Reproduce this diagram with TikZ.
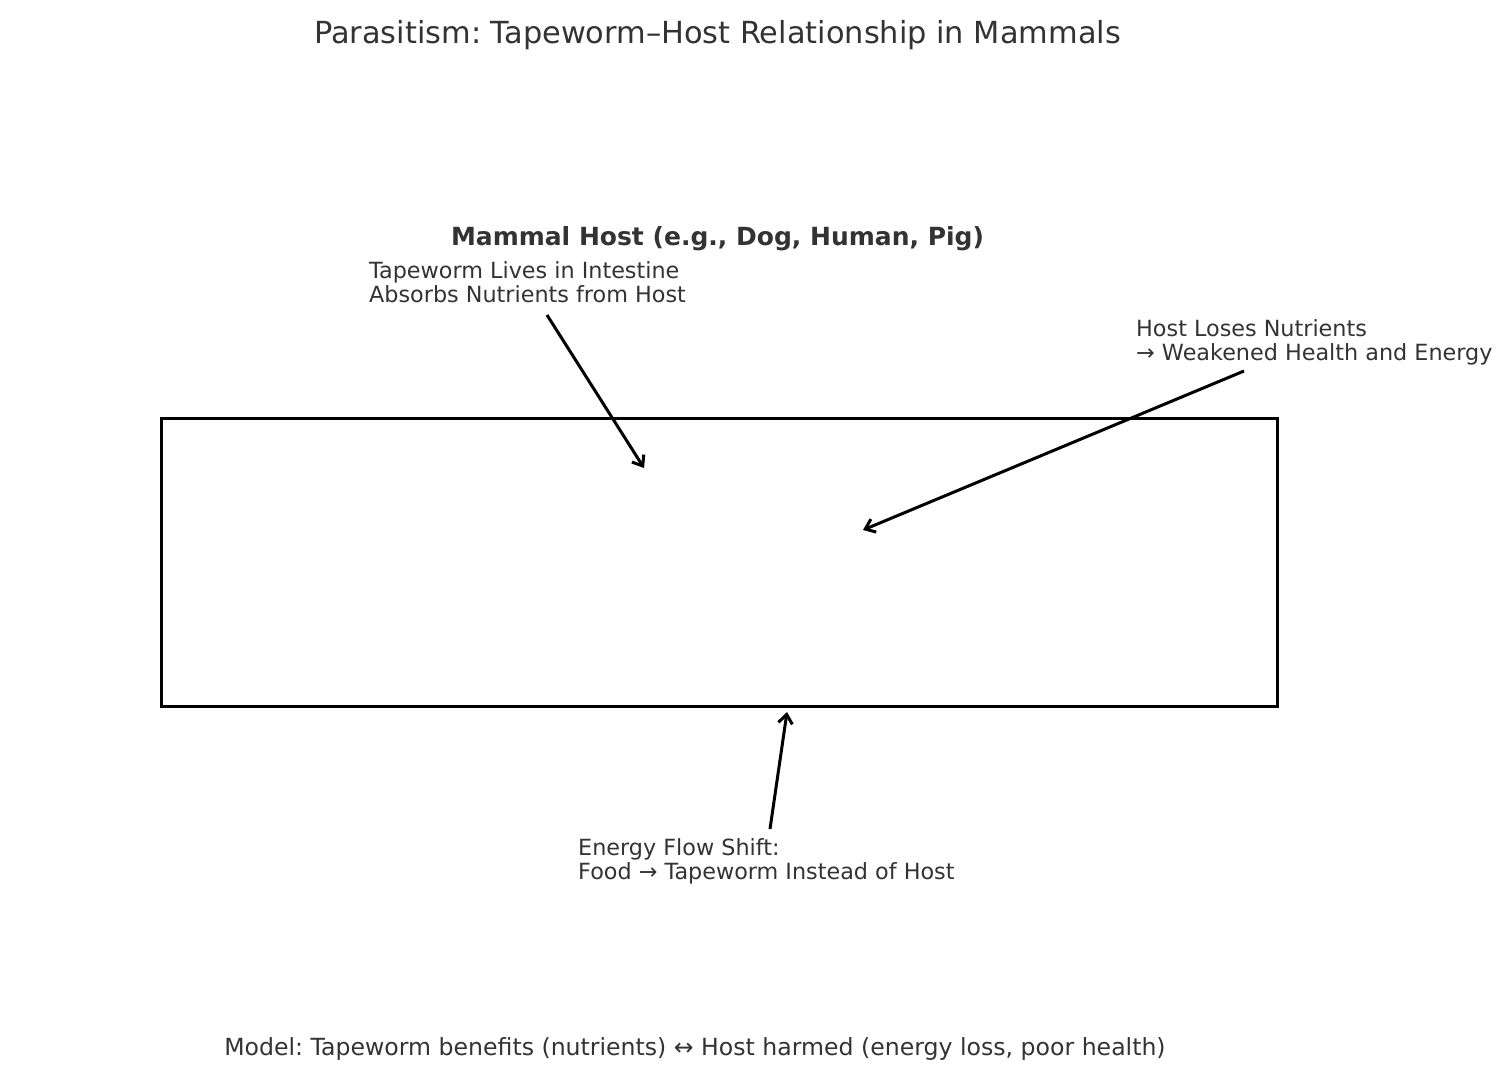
\documentclass[tikz,border=0pt]{standalone}
\usepackage{fontspec}
\setmainfont{DejaVu Sans}
\usetikzlibrary{arrows.meta}
\definecolor{txt}{HTML}{333333}
\frenchspacing
\tikzset{
  lbl/.style={text=txt, font=\fontsize{22.3}{23.3}\selectfont, align=left, inner sep=0pt, anchor=base west},
  ptr/.style={line width=3pt, -{Straight Barb[length=9pt,width=14pt,line width=3pt]}},
}
\begin{document}
\begin{tikzpicture}[x=1pt,y=-1pt]
\useasboundingbox (0,0) rectangle (1511,1079);
\node[text=txt, font=\fontsize{30.4}{36}\selectfont\frenchspacing, inner sep=0pt, anchor=base] (title) at (717.5,43) {Parasitism: Tapeworm–Host Relationship in Mammals};
\node[text=txt, font=\fontsize{25}{30}\bfseries, inner sep=0pt, anchor=base] (host) at (717.5,245.5) {Mammal Host (e.g., Dog, Human, Pig)};
\node[draw=black, line width=3pt, minimum width=1116pt, minimum height=288pt, anchor=north west, inner sep=0pt] (box) at (160,417) {};
\node[lbl] (l1) at (369,302) {Tapeworm Lives in Intestine\\Absorbs Nutrients from Host};
\node[lbl] (l2) at (1136,360) {Host Loses Nutrients\\→ Weakened Health and Energy};
\node[lbl] (l3) at (578,879) {Energy Flow Shift:\\Food → Tapeworm Instead of Host};
\node[text=txt, font=\fontsize{23.6}{28}\selectfont\frenchspacing, inner sep=0pt, anchor=base] (model) at (695,1055) {Model: Tapeworm benefits (nutrients) ↔ Host harmed (energy loss, poor health)};
\coordinate (s1) at (547,315); \coordinate (e1) at (644,468);
\coordinate (s2) at (1244,371); \coordinate (e2) at (863,530);
\coordinate (s3) at (770,829); \coordinate (e3) at (787,712);
\draw[ptr] (s1) -- (e1);
\draw[ptr] (s2) -- (e2);
\draw[ptr] (s3) -- (e3);
\end{tikzpicture}
\end{document}
